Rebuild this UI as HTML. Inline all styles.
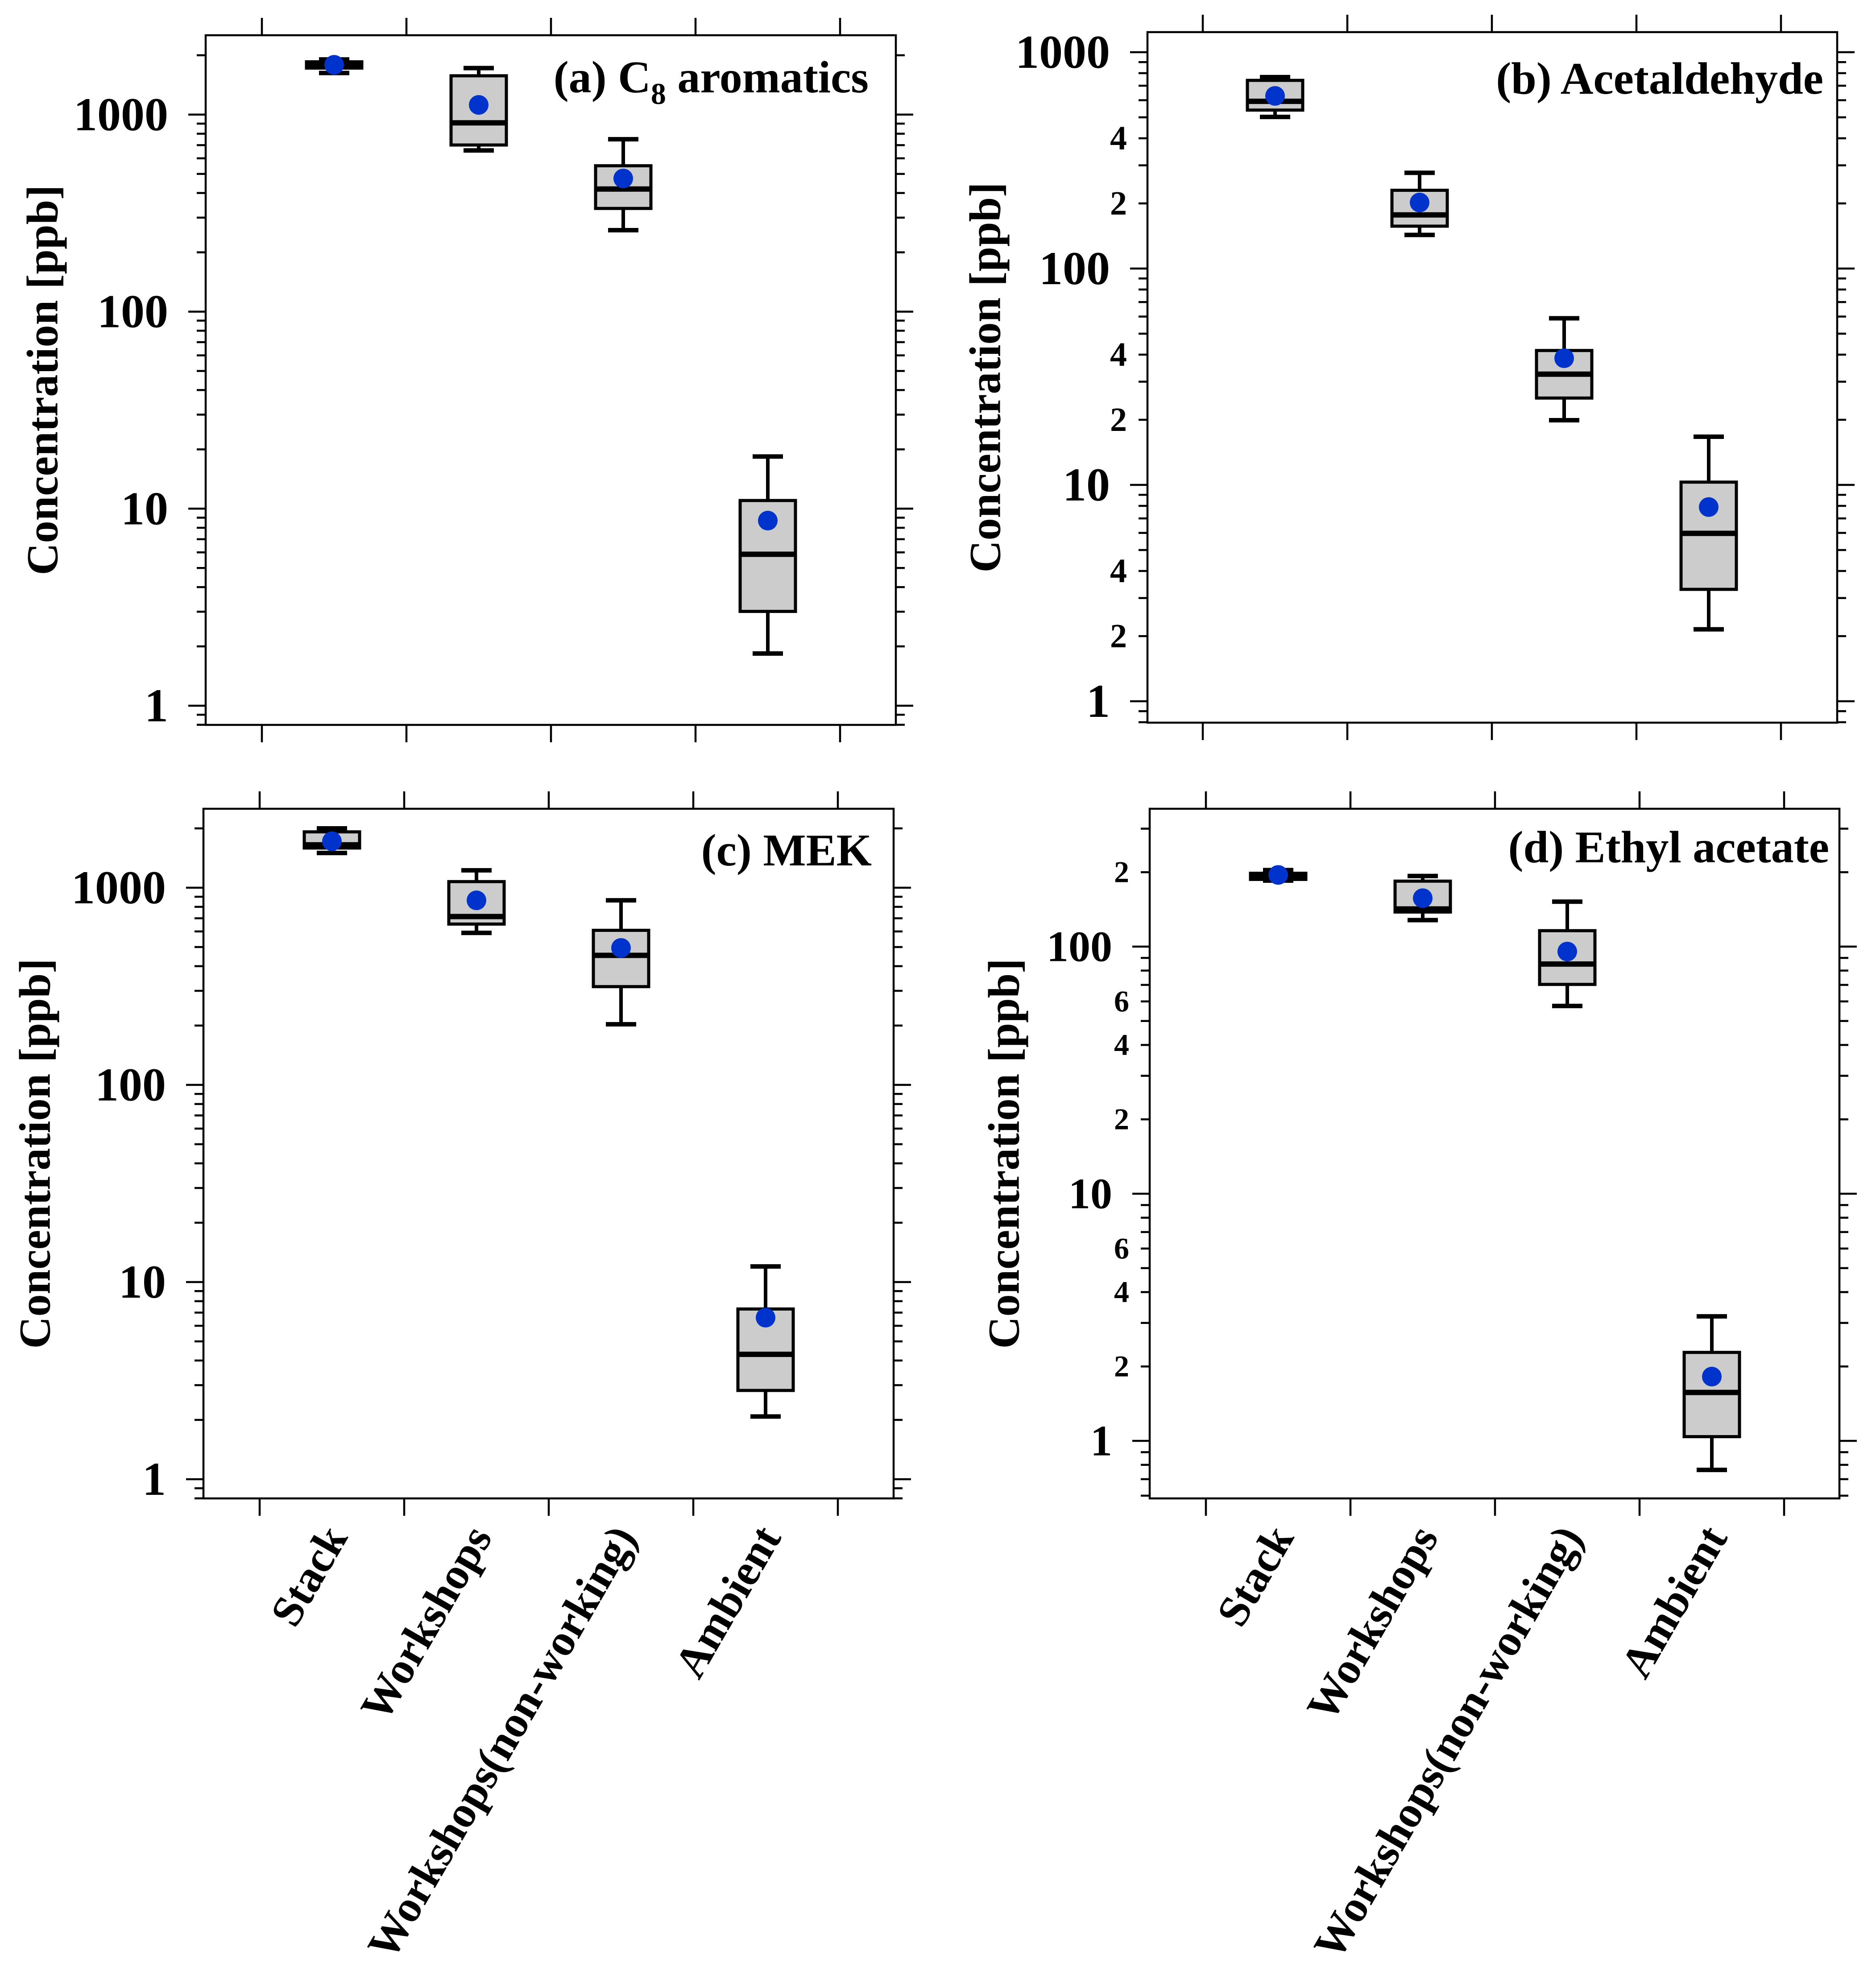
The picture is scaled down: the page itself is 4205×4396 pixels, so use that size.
<!DOCTYPE html>
<html><head><meta charset="utf-8"><style>
html,body{margin:0;padding:0;background:#fff;}
svg{display:block;font-family:"Liberation Serif",serif;font-weight:bold;}
</style></head><body>
<svg id="fig" width="4205" height="4396" viewBox="0 0 4205 4396" xmlns="http://www.w3.org/2000/svg"></svg>
<script>
const categories = ["Stack","Workshops","Workshops(non-working)","Ambient"];
// panel (a) C8 aromatics
const aWhiskerHigh = [1905, 1722, 750, 18.4];
const aQ3 = [1853, 1574, 550, 11.0];
const aMedian = [1791, 908, 419, 5.87];
const aQ1 = [1722, 701, 334, 3.01];
const aWhiskerLow = [1626, 658, 259, 1.84];
const aMean = [1790, 1120, 474, 8.7];
// panel (b) Acetaldehyde
const bWhiskerHigh = [767, 277, 58.9, 16.7];
const bQ3 = [741, 230, 41.8, 10.3];
const bMedian = [593, 177, 32.5, 5.97];
const bQ1 = [540, 157, 25.2, 3.29];
const bWhiskerLow = [502, 143, 19.9, 2.15];
const bMean = [628, 202, 38.5, 7.9];
// panel (c) MEK
const cWhiskerHigh = [2000, 1225, 863, 12.0];
const cQ3 = [1920, 1074, 608, 7.3];
const cMedian = [1650, 714, 454, 4.3];
const cQ1 = [1590, 654, 315, 2.82];
const cWhiskerLow = [1500, 590, 203, 2.08];
const cMean = [1720, 863, 495, 6.6];
// panel (d) Ethyl acetate
const dWhiskerHigh = [204, 193, 152, 3.19];
const dQ3 = [198, 184, 116, 2.28];
const dMedian = [192, 142, 85, 1.57];
const dQ1 = [187, 138, 70.3, 1.04];
const dWhiskerLow = [185, 128, 57.5, 0.763];
const dMean = [195, 157, 95.5, 1.82];
// tick labels
const majorTicksA = [1, 10, 100, 1000];
const majorTicksB = [1, 10, 100, 1000];
const minorLabelsB = [2, 4, 20, 40, 200, 400];
const majorTicksC = [1, 10, 100, 1000];
const majorTicksD = [1, 10, 100];
const minorLabelsD = [2, 4, 6, 20, 40, 60, 200];

const NS = "http://www.w3.org/2000/svg";
const svg = document.getElementById("fig");
function el(tag, attrs, parent) {
  const e = document.createElementNS(NS, tag);
  for (const k in attrs) e.setAttribute(k, attrs[k]);
  (parent || svg).appendChild(e);
  return e;
}

const panels = [
  {id:"a", L:461, T:79, R:2008, B:1625, y1:1582, dec:441.7, x0:749, titleX:1947, titleY:207, ytX:95,
   hi:aWhiskerHigh,q3:aQ3,med:aMedian,q1:aQ1,lo:aWhiskerLow,mean:aMean, major:majorTicksA, minorL:[], mf:106, sf:76, xlabels:false},
  {id:"b", L:2572, T:72, R:4118, B:1620, y1:1572, dec:485, x0:2858, titleX:4087, titleY:210, ytX:2208,
   hi:bWhiskerHigh,q3:bQ3,med:bMedian,q1:bQ1,lo:bWhiskerLow,mean:bMean, major:majorTicksB, minorL:minorLabelsB, mf:106, sf:76, xlabels:false},
  {id:"c", L:456, T:1813, R:2003, B:3359, y1:3316, dec:442, x0:744, titleX:1954, titleY:1940, ytX:78,
   hi:cWhiskerHigh,q3:cQ3,med:cMedian,q1:cQ1,lo:cWhiskerLow,mean:cMean, major:majorTicksC, minorL:[], mf:106, sf:76, xlabels:true},
  {id:"d", L:2577, T:1813, R:4123, B:3359, y1:3230, dec:554, x0:2865, titleX:4100, titleY:1933, ytX:2250,
   hi:dWhiskerHigh,q3:dQ3,med:dMedian,q1:dQ1,lo:dWhiskerLow,mean:dMean, major:majorTicksD, minorL:minorLabelsD, mf:98, sf:68, xlabels:true}
];
const titles = {a:["(a) C","8"," aromatics"], b:["(b) Acetaldehyde"], c:["(c) MEK"], d:["(d) Ethyl acetate"]};
const STEP = 324;

panels.forEach(p => {
  const g = el("g", {});
  
  
  const yS = v => p.y1 - Math.log10(v) * p.dec;
  const xS = i => p.x0 + STEP * i;
  const vMin = Math.pow(10, (p.y1 - p.B) / p.dec);
  const vMax = Math.pow(10, (p.y1 - p.T) / p.dec);

  const fr = el("rect", {x:p.L, y:p.T, width:p.R-p.L, height:p.B-p.T, fill:"none", stroke:"#000", "stroke-width":4.5}, g);
  
  

  const yt = el("g", {}, g);
  
  
  for (let e = -1; e <= 4; e++) {
    for (let m = 1; m <= 9; m++) {
      const v = m * Math.pow(10, e);
      if (v < vMin || v > vMax) continue;
      const y = yS(v);
      const len = m === 1 ? 39 : 20;
      const t1 = el("line", {x1:p.L-len, x2:p.L, y1:y, y2:y, stroke:"#000", "stroke-width":4.5}, yt);
      
      
      const t2 = el("line", {x1:p.R, x2:p.R+len, y1:y, y2:y, stroke:"#000", "stroke-width":4.5}, yt);
      
      
    }
  }
  p.major.forEach(v => {
    const t = el("text", {x:p.L-84, y:yS(v)+p.mf*0.33, "text-anchor":"end", "font-size":p.mf}, g);
    t.textContent = String(v);
    
    
  });
  p.minorL.forEach(v => {
    const t = el("text", {x:p.L-46, y:yS(v)+p.sf*0.33, "text-anchor":"end", "font-size":p.sf}, g);
    t.textContent = String(v).charAt(0);
    
    
  });

  for (let k = 0; k <= 4; k++) {
    const x = p.x0 - STEP/2 + STEP * k;
    const a = el("line", {x1:x, x2:x, y1:p.T-39, y2:p.T, stroke:"#000", "stroke-width":4.5}, g);
    
    
    const b = el("line", {x1:x, x2:x, y1:p.B, y2:p.B+39, stroke:"#000", "stroke-width":4.5}, g);
    
    
  }

  categories.forEach((c, i) => {
    const bg = el("g", {}, g);
    
    
    const x = xS(i);
    el("line", {x1:x, x2:x, y1:yS(p.hi[i]), y2:yS(p.q3[i]), stroke:"#000", "stroke-width":8}, bg);
    el("line", {x1:x, x2:x, y1:yS(p.q1[i]), y2:yS(p.lo[i]), stroke:"#000", "stroke-width":8}, bg);
    el("line", {x1:x-34, x2:x+34, y1:yS(p.hi[i]), y2:yS(p.hi[i]), stroke:"#000", "stroke-width":10}, bg);
    el("line", {x1:x-34, x2:x+34, y1:yS(p.lo[i]), y2:yS(p.lo[i]), stroke:"#000", "stroke-width":10}, bg);
    el("rect", {x:x-62, y:yS(p.q3[i]), width:124, height:Math.max(1, yS(p.q1[i]) - yS(p.q3[i])), fill:"#cccccc", stroke:"#000", "stroke-width":7}, bg);
    el("line", {x1:x-62, x2:x+62, y1:yS(p.med[i]), y2:yS(p.med[i]), stroke:"#000", "stroke-width":12}, bg);
    const m = el("circle", {cx:x, cy:yS(p.mean[i]), r:22, fill:"#0033cc"}, bg);
    
    
  });

  const tt = el("text", {x:p.titleX, y:p.titleY, "text-anchor":"end", "font-size":102}, g);
  
  
  const parts = titles[p.id];
  if (parts.length === 1) { tt.textContent = parts[0]; }
  else {
    const s1 = el("tspan", {}, tt); s1.textContent = parts[0];
    const s2 = el("tspan", {"font-size":68, dy:26}, tt); s2.textContent = parts[1];
    const s3 = el("tspan", {dy:-26}, tt); s3.textContent = parts[2];
  }

  const cy = (p.T + p.B) / 2;
  const yt2 = el("text", {x:p.ytX, y:cy, "text-anchor":"middle", "dominant-baseline":"central", "font-size":100, transform:"rotate(-90 " + p.ytX + " " + cy + ")"}, g);
  yt2.textContent = "Concentration [ppb]";
  
  

  if (p.xlabels) {
    categories.forEach((c, i) => {
      const x = xS(i) + 8, y = p.B + 70;
      const t = el("text", {x:x, y:y, "text-anchor":"end", "dominant-baseline":"central", "font-size":100, transform:"rotate(-60 " + x + " " + y + ")"}, g);
      t.textContent = c;
      
      
    });
  }
});
</script>
</body></html>
